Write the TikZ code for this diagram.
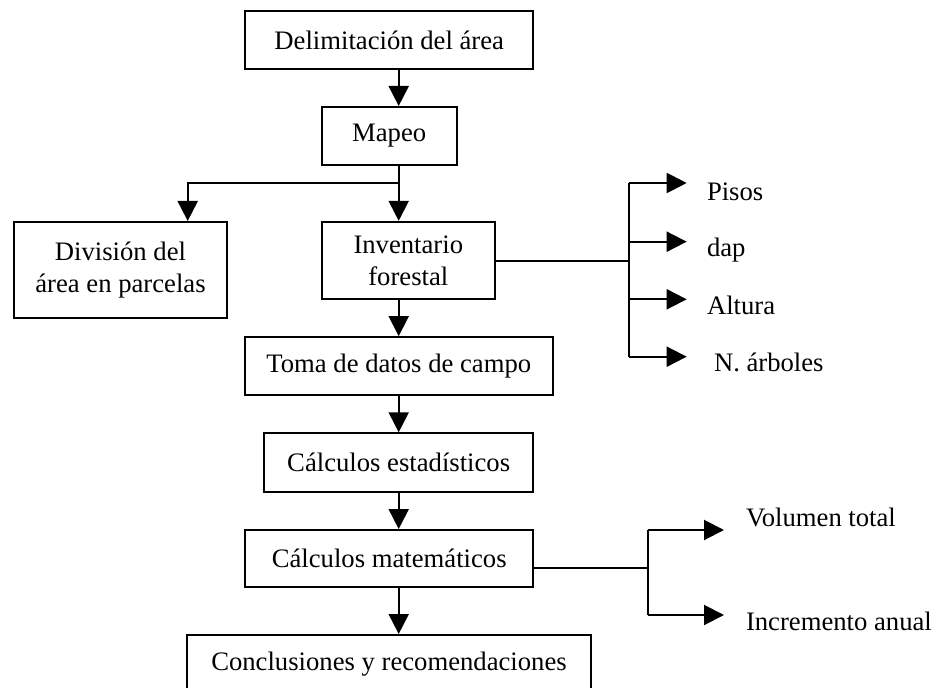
\documentclass[tikz,border=0pt]{standalone}
\usepackage{fontspec}
\setmainfont{Liberation Serif}
\usetikzlibrary{arrows.meta}

\begin{document}
\begin{tikzpicture}[x=0.75pt, y=-0.75pt, >={Triangle[length=15pt,width=15pt]},
    line width=1.5pt, font=\fontsize{20}{24}\selectfont,
    box/.style={draw, line width=1.5pt, align=center, inner sep=0pt},
    lbl/.style={anchor=base west, inner sep=0pt}]
    \useasboundingbox (0,0) rectangle (935,688);

    % Main steps
    \node[box, minimum width=216pt, minimum height=43.5pt] (delim) at (389.2,40) {Delimitación del área};
    \node[box, minimum width=101pt, minimum height=43.5pt] (mapeo) at (389.2,136) {Mapeo};
    \node[box, minimum width=160pt, minimum height=72pt] (division) at (120.5,270) {División del\\área en parcelas};
    \node[box, minimum width=130pt, minimum height=58pt] (inventario) at (408.3,260.5) {Inventario\\forestal};
    \node[box, minimum width=231pt, minimum height=43.3pt] (toma) at (398.8,366) {Toma de datos de campo};
    \node[box, minimum width=202pt, minimum height=43.8pt] (estad) at (398.7,462.5) {Cálculos estadísticos};
    \node[box, minimum width=216pt, minimum height=43pt] (matem) at (389.2,558.7) {Cálculos matemáticos};
    \node[box, minimum width=302.5pt, minimum height=43.5pt] (concl) at (389,664) {Conclusiones y recomendaciones};

    % Main column
    \coordinate (spine) at (398.7,183);
    \coordinate (divsplit) at (187.7,183);
    \draw[->] (delim.south -| spine) -- (mapeo.north -| spine);
    \draw (mapeo.south -| spine) -- (spine);
    \draw[->] (spine) -- (inventario.north -| spine);
    \draw[->] (spine) -- (divsplit) -- (division.north -| divsplit);
    \draw[->] (inventario.south -| spine) -- (toma.north -| spine);
    \draw[->] (toma.south -| spine) -- (estad.north -| spine);
    \draw[->] (estad.south -| spine) -- (matem.north -| spine);
    \draw[->] (matem.south -| spine) -- (concl.north -| spine);

    % Inventory variables
    \coordinate (invbus) at (629.3,260.5);
    \coordinate (tpisos) at (686.7,183);
    \coordinate (tdap) at (686.7,241.7);
    \coordinate (taltura) at (686.7,299.3);
    \coordinate (tarboles) at (686.7,356.7);
    \draw (inventario.east) -- (invbus);
    \draw (invbus |- tpisos) -- (invbus |- tarboles);
    \draw[->] (invbus |- tpisos) -- (tpisos);
    \draw[->] (invbus |- tdap) -- (tdap);
    \draw[->] (invbus |- taltura) -- (taltura);
    \draw[->] (invbus |- tarboles) -- (tarboles);
    \node[lbl] (pisos) at (706,200) {Pisos};
    \node[lbl] (dap) at (706,256.7) {dap};
    \node[lbl] (altura) at (706,314) {Altura};
    \node[lbl] (arboles) at (713,371.7) {N. árboles};

    % Results
    \coordinate (resbus) at (647.7,567.7);
    \coordinate (tvolumen) at (724,530);
    \coordinate (tincremento) at (724,615);
    \draw (matem.east |- resbus) -- (resbus);
    \draw (resbus |- tvolumen) -- (resbus |- tincremento);
    \draw[->] (resbus |- tvolumen) -- (tvolumen);
    \draw[->] (resbus |- tincremento) -- (tincremento);
    \node[lbl] (volumen) at (745,526.7) {Volumen total};
    \node[lbl] (incremento) at (745,630) {Incremento anual};
\end{tikzpicture}
\end{document}
